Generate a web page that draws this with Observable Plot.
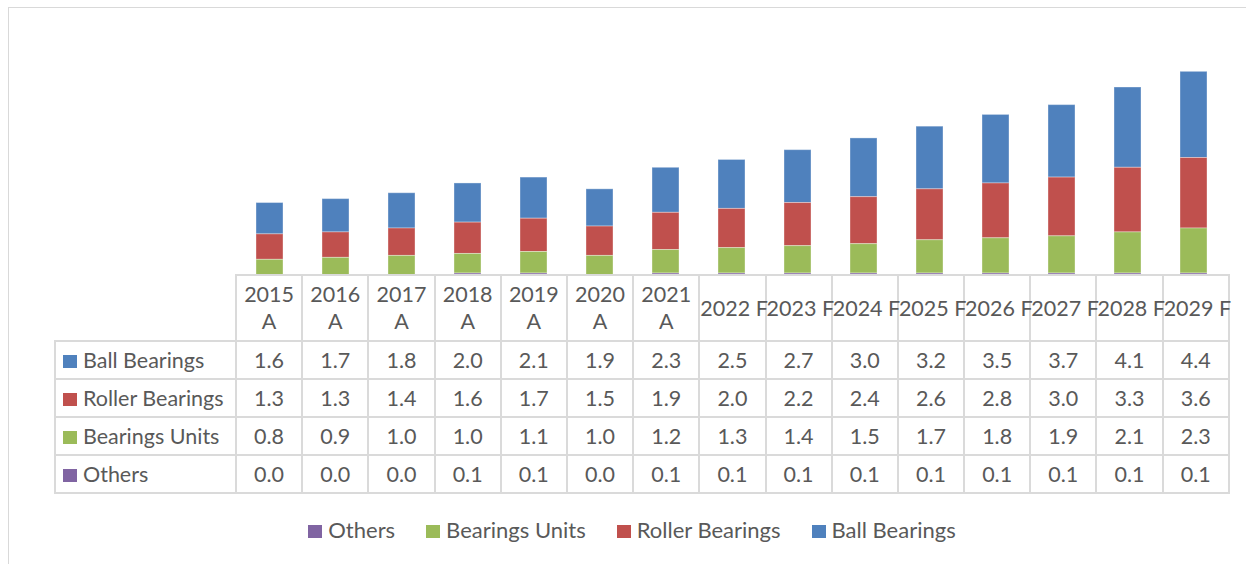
<!DOCTYPE html>
<html>
<head>
<meta charset="utf-8">
<script src="https://cdn.jsdelivr.net/npm/d3@7"></script>
<script src="https://cdn.jsdelivr.net/npm/@observablehq/plot@0.6"></script>
<style>
  html, body { margin: 0; padding: 0; background: #fff; }
  #wrap { position: relative; width: 1246px; height: 564px; overflow: hidden; font-family: Lato, "Open Sans", sans-serif; color: #595959; }
  #frame { position: absolute; left: 8px; top: 7px; width: 1250px; height: 600px; border: 1.5px solid #d9d9d9; box-sizing: border-box; }
  #chart { position: absolute; left: 0; top: 0; }
  #tbl { position: absolute; left: 54px; top: 274px; width: 1175px; border-collapse: collapse; table-layout: fixed; font-size: 21.5px; }
  #tbl td { border: 2px solid #dadada; text-align: center; padding: 0; white-space: nowrap; overflow: visible; }
  #tbl tr.head td { height: 64px; line-height: 27px; }
  #tbl tr.body td { height: 36px; }
  #tbl tr.head td.blank { border: none; }
  #tbl td.lab { text-align: left; padding-left: 7px; }
  .sw { display: inline-block; width: 14px; height: 13px; margin-right: 6px; }
  #legend { position: absolute; left: 0; top: 516px; width: 1264px; display: flex; justify-content: center; font-size: 22px; }
  #legend span.item { margin: 0 15.5px; white-space: nowrap; }
  #legend .sw { width: 14px; height: 13px; margin-right: 6px; }
</style>
</head>
<body>
<div id="wrap">
  <div id="frame"></div>
  <div id="chart"></div>
  <table id="tbl"></table>
  <div id="legend"></div>
</div>
<script>
const years = ["2015 A","2016 A","2017 A","2018 A","2019 A","2020 A","2021 A","2022 F","2023 F","2024 F","2025 F","2026 F","2027 F","2028 F","2029 F"];
const ballBearings   = [1.6,1.7,1.8,2.0,2.1,1.9,2.3,2.5,2.7,3.0,3.2,3.5,3.7,4.1,4.4];
const rollerBearings = [1.3,1.3,1.4,1.6,1.7,1.5,1.9,2.0,2.2,2.4,2.6,2.8,3.0,3.3,3.6];
const bearingsUnits  = [0.8,0.9,1.0,1.0,1.1,1.0,1.2,1.3,1.4,1.5,1.7,1.8,1.9,2.1,2.3];
const others         = [0.0,0.0,0.0,0.1,0.1,0.0,0.1,0.1,0.1,0.1,0.1,0.1,0.1,0.1,0.1];

const seriesNames = ["Ball Bearings","Roller Bearings","Bearings Units","Others"];
const seriesValues = [ballBearings, rollerBearings, bearingsUnits, others];
const seriesColors = ["#4F81BD","#C0504D","#9BBB59","#8064A2"];
const stackOrder = ["Others","Bearings Units","Roller Bearings","Ball Bearings"];

const rows = [];
seriesNames.forEach((s, i) => years.forEach((y, j) => rows.push({year: y, series: s, value: seriesValues[i][j]})));

const plot = Plot.plot({
  width: 1246,
  height: 276,
  marginLeft: 236,
  marginRight: 18,
  marginTop: 40,
  marginBottom: 1,
  style: {background: "transparent"},
  x: {domain: years, paddingInner: 0.59, paddingOuter: 0.295, axis: null},
  y: {domain: [0, 12], axis: null},
  color: {domain: seriesNames, range: seriesColors},
  marks: [
    Plot.barY(rows, {x: "year", y: "value", fill: "series", order: stackOrder, stroke: "#ffffff", strokeOpacity: 0.35, strokeWidth: 1})
  ]
});
document.getElementById("chart").appendChild(plot);

// data table
const tbl = document.getElementById("tbl");
const cg = document.createElement("colgroup");
let cgHtml = '<col style="width:181px">';
years.forEach(() => cgHtml += '<col style="width:66.2px">');
cg.innerHTML = cgHtml;
tbl.appendChild(cg);
const head = document.createElement("tr");
head.className = "head";
head.innerHTML = '<td class="blank"></td>' + years.map(y => '<td>' + (y.endsWith(" A") ? y.replace(" A", "<br>A") : y) + '</td>').join("");
tbl.appendChild(head);
seriesNames.forEach((s, i) => {
  const tr = document.createElement("tr");
  tr.className = "body";
  tr.innerHTML = '<td class="lab"><span class="sw" style="background:' + seriesColors[i] + '"></span>' + s + '</td>' +
    seriesValues[i].map(v => '<td>' + v.toFixed(1) + '</td>').join("");
  tbl.appendChild(tr);
});

// legend
const legend = document.getElementById("legend");
stackOrder.forEach(s => {
  const i = seriesNames.indexOf(s);
  const el = document.createElement("span");
  el.className = "item";
  el.innerHTML = '<span class="sw" style="background:' + seriesColors[i] + '"></span>' + s;
  legend.appendChild(el);
});
</script>
</body>
</html>
